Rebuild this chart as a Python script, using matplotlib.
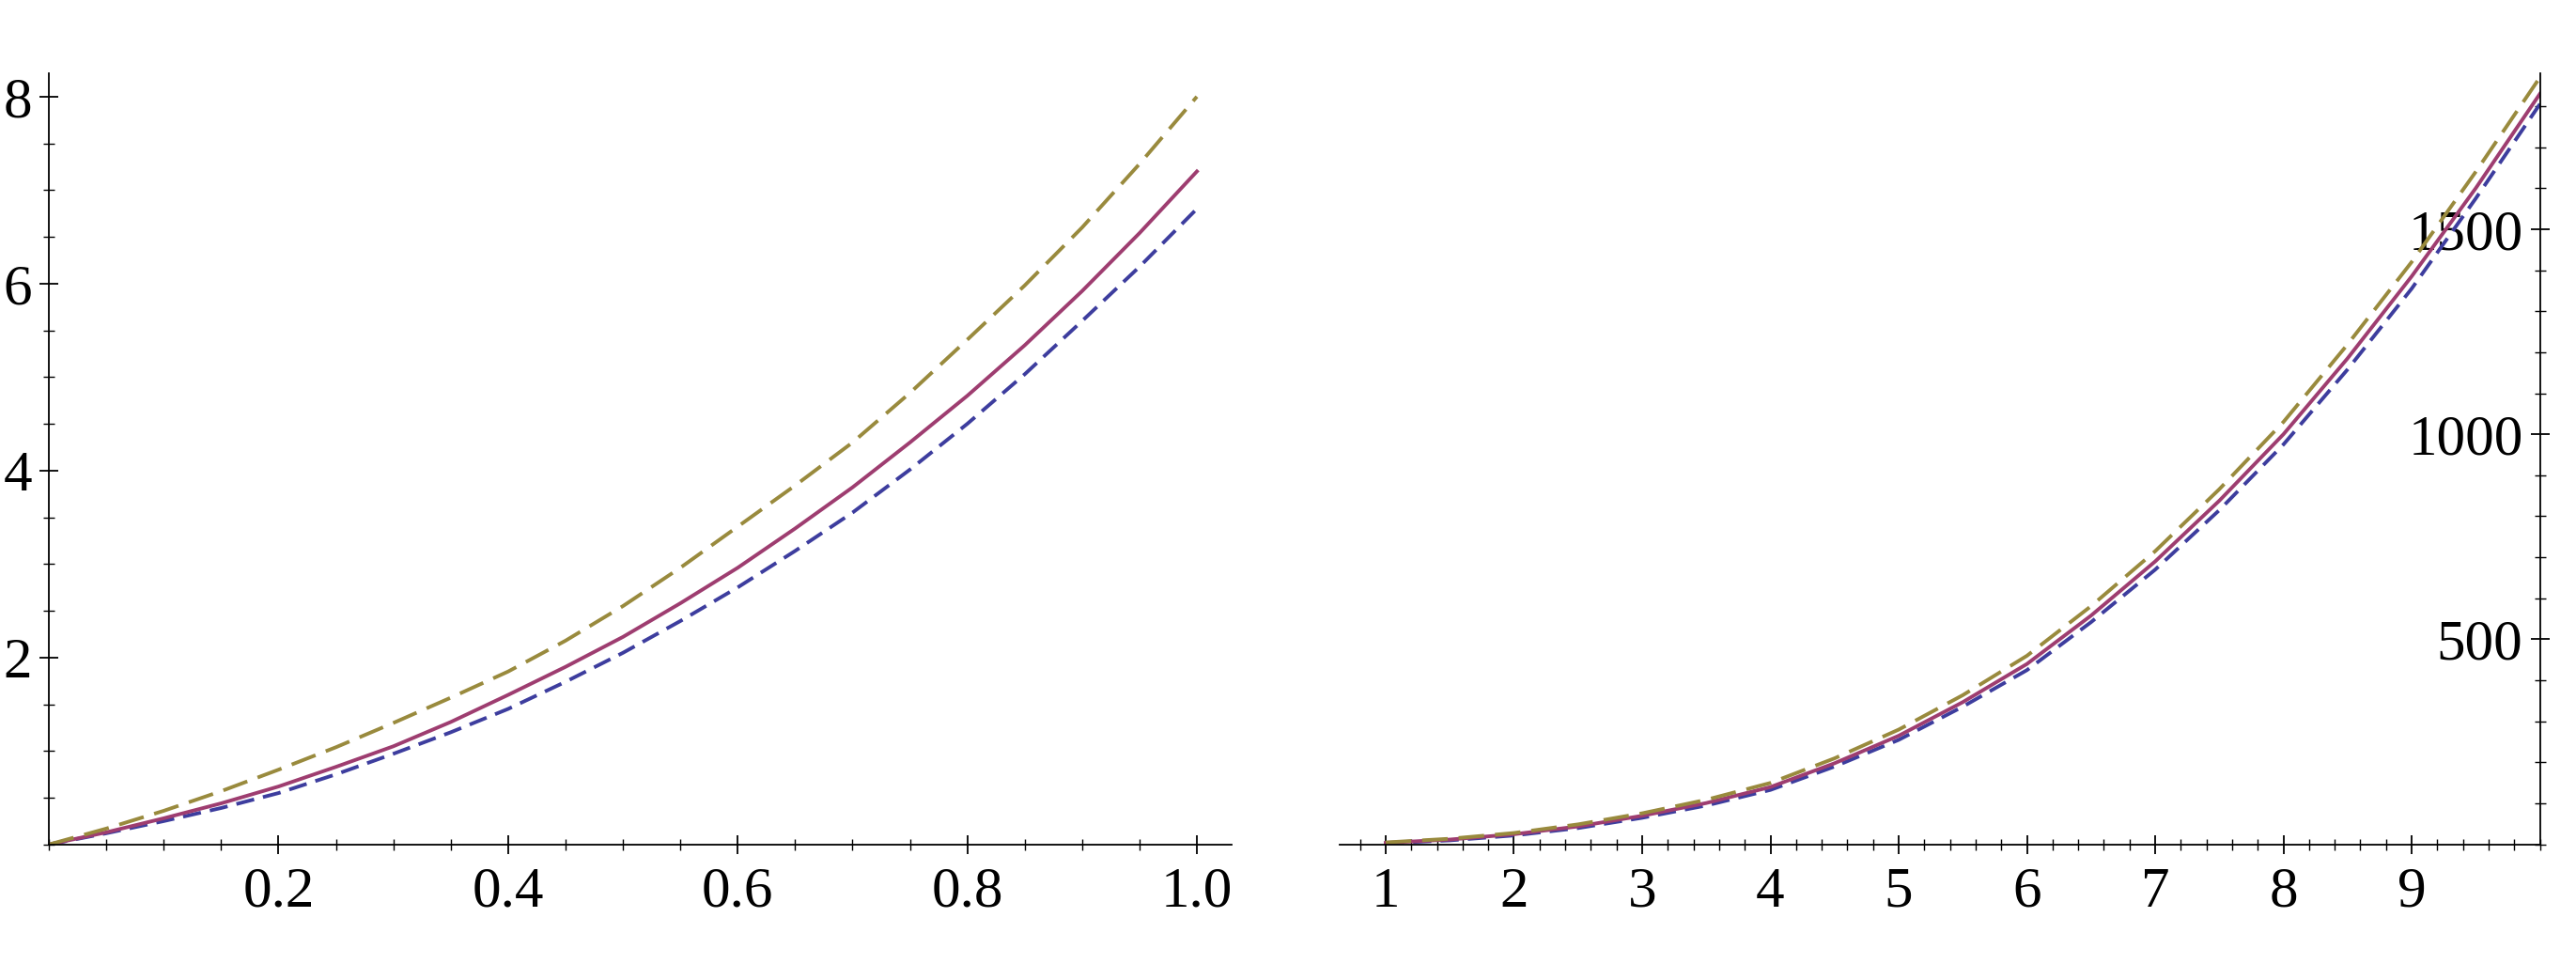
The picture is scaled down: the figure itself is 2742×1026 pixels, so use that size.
import matplotlib
matplotlib.use("Agg")
import matplotlib.pyplot as plt
import numpy as np
from matplotlib.ticker import MultipleLocator, FixedLocator

xl = [0,0.05,0.1,0.15,0.2,0.25,0.3,0.35,0.4,0.45,0.5,0.55,0.6,0.65,0.7,0.75,0.8,0.85,0.9,0.95,1.0]
purple_l = [0,0.13,0.28,0.44,0.62,0.83,1.05,1.31,1.6,1.9,2.22,2.58,2.96,3.38,3.82,4.3,4.8,5.34,5.92,6.54,7.2]
gold_l = [0,0.17,0.36,0.57,0.8,1.04,1.3,1.57,1.85,2.18,2.55,2.96,3.4,3.84,4.3,4.83,5.4,5.98,6.6,7.28,8.0]
blue_l = [0,0.12,0.25,0.39,0.55,0.75,0.97,1.2,1.45,1.74,2.05,2.39,2.75,3.14,3.55,4.01,4.5,5.03,5.6,6.18,6.8]

xr = [1,1.5,2,2.5,3,3.5,4,4.5,5,5.5,6,6.5,7,7.5,8,8.5,9,9.5,10]
purple_r = [4,12,25,44,70,101,140,198,265,347,440,558,690,838,1000,1185,1385,1600,1830]
gold_r = [5,14,28,49,76,109,150,210,280,364,460,581,715,866,1030,1219,1420,1640,1870]
blue_r = [3,10,22,40,65,95,133,190,255,336,425,542,670,815,975,1158,1355,1575,1805]

C_BLUE = (0.24,0.24,0.62)
C_PURP = (0.62,0.24,0.44)
C_GOLD = (0.6,0.54,0.24)

plt.rcParams['font.family'] = ['Liberation Serif', 'DejaVu Serif']
fig = plt.figure(figsize=(27.42,10.26), dpi=100)
axL = fig.add_axes([0.019,0.124,0.459,0.80])
axR = fig.add_axes([0.52,0.124,0.466,0.80])

for ax in (axL, axR):
    for s in ['top','right']:
        ax.spines[s].set_visible(False)
    ax.tick_params(which='major', direction='inout', length=14, width=1.3, labelsize=44)
    ax.tick_params(which='minor', direction='inout', length=8, width=1.0)
    ax.spines['left'].set_linewidth(1.3); ax.spines['bottom'].set_linewidth(1.3)

lw=2.8
axL.plot(xl, blue_l, color=C_BLUE, lw=lw, dashes=(5,2.5))
axL.plot(xl, purple_l, color=C_PURP, lw=lw)
axL.plot(xl, gold_l, color=C_GOLD, lw=lw, dashes=(7,3))
axL.set_xlim(0,1.03); axL.set_ylim(0,8.25)
axL.xaxis.set_major_locator(FixedLocator([0.2,0.4,0.6,0.8,1.0]))
axL.xaxis.set_minor_locator(MultipleLocator(0.05))
axL.set_xticklabels(['0.2','0.4','0.6','0.8','1.0'])
axL.yaxis.set_major_locator(FixedLocator([2,4,6,8]))
axL.yaxis.set_minor_locator(MultipleLocator(0.5))
axL.set_yticklabels(['2','4','6','8'])
axL.tick_params(axis='x', pad=10)
axL.tick_params(axis='y', pad=6)

axR.plot(xr, blue_r, color=C_BLUE, lw=lw, dashes=(5,2.5))
axR.plot(xr, purple_r, color=C_PURP, lw=lw)
axR.plot(xr, gold_r, color=C_GOLD, lw=lw, dashes=(7,3))
axR.set_xlim(0.64,10.0); axR.set_ylim(0,1880)
axR.spines['left'].set_position(('data',10.0))
axR.xaxis.set_major_locator(FixedLocator(list(range(1,10))))
axR.xaxis.set_minor_locator(MultipleLocator(0.2))
axR.set_xticklabels([str(i) for i in range(1,10)])
axR.yaxis.set_major_locator(FixedLocator([500,1000,1500]))
axR.yaxis.set_minor_locator(MultipleLocator(100))
axR.set_yticklabels(['500','1000','1500'])
axR.tick_params(axis='x', pad=10)
axR.tick_params(axis='y', pad=6)

fig.savefig("out.png", dpi=100)
